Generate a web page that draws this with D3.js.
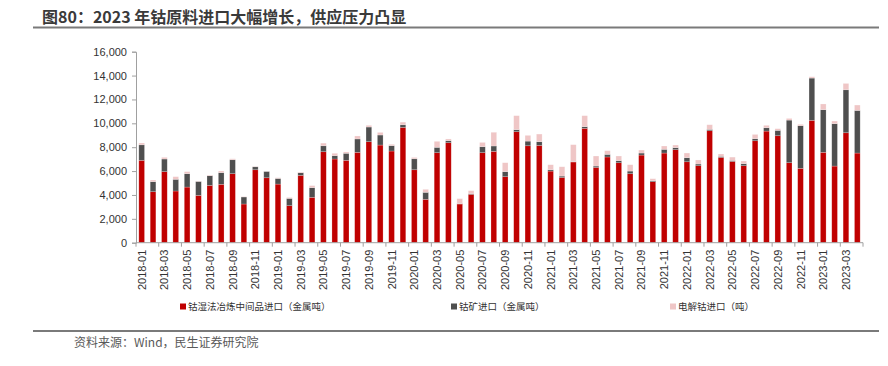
<!DOCTYPE html>
<html><head><meta charset="utf-8">
<script src="https://cdn.jsdelivr.net/npm/d3@7"></script>
<style>
body{margin:0;background:#fff;}
svg{display:block;}
</style></head>
<body><svg id="c" width="888" height="366"></svg>
<script>
const months = [
"2018-01","2018-02","2018-03","2018-04","2018-05","2018-06","2018-07","2018-08","2018-09","2018-10","2018-11","2018-12",
"2019-01","2019-02","2019-03","2019-04","2019-05","2019-06","2019-07","2019-08","2019-09","2019-10","2019-11","2019-12",
"2020-01","2020-02","2020-03","2020-04","2020-05","2020-06","2020-07","2020-08","2020-09","2020-10","2020-11","2020-12",
"2021-01","2021-02","2021-03","2021-04","2021-05","2021-06","2021-07","2021-08","2021-09","2021-10","2021-11","2021-12",
"2022-01","2022-02","2022-03","2022-04","2022-05","2022-06","2022-07","2022-08","2022-09","2022-10","2022-11","2022-12",
"2023-01","2023-02","2023-03","2023-04"];
// 钴湿法冶炼中间品进口（金属吨）
const intermediate = [
6900,4270,5950,4330,4660,3960,4800,4890,5780,3240,6110,5440,
4910,3100,5640,3800,7620,7010,6900,7570,8460,8180,7680,9660,
6110,3630,7540,8380,3240,4050,7540,7650,5530,9300,8120,8150,
6000,5470,6760,9580,6310,7180,6700,5780,7340,5110,7510,7790,
6780,6450,9380,7150,6810,6450,8540,9350,8960,6700,6230,10250,
7570,6420,9210,7510];
// 钴矿进口（金属吨）
const ore = [
1300,840,1060,980,1120,1170,810,980,1170,590,250,530,
470,610,220,810,500,280,590,1120,1230,840,450,220,
920,590,450,170,30,60,500,450,420,170,390,310,
110,110,30,140,110,220,170,220,170,80,310,170,
340,140,110,80,80,170,170,280,450,3570,3570,3540,
3570,3550,3600,3570];
// 电解钴进口（吨）
const electrolytic = [
150,140,140,220,170,30,60,140,80,30,30,20,
60,80,60,170,220,200,110,250,140,220,110,220,
110,250,500,140,420,250,360,1150,750,1170,480,640,
420,780,1420,920,840,310,390,530,250,170,280,220,
390,340,390,200,280,220,360,200,140,140,110,110,
480,220,530,450];
const yTicks = [0,2000,4000,6000,8000,10000,12000,14000,16000];
const seriesNames = ["钴湿法冶炼中间品进口（金属吨）","钴矿进口（金属吨）","电解钴进口（吨）"];
const colors = ["#C00000","#4F4F4F","#EFC6C6"];

const svg = d3.select("#c");
const cjk = "'Noto Sans CJK SC','Noto Sans',sans-serif";
const lat = "'Liberation Sans',Arial,sans-serif";

// title
svg.append("text").attr("x",42).attr("y",23)
  .attr("font-family",cjk).attr("font-weight","bold").attr("font-size",16)
  .attr("fill","#3a3a3a").text("图80：2023 年钴原料进口大幅增长，供应压力凸显");
svg.append("line").attr("x1",33).attr("x2",879).attr("y1",27.5).attr("y2",27.5)
  .attr("stroke","#7a7a7a").attr("stroke-width",2);

const x = d3.scaleBand().domain(months).range([136,863]).paddingInner(0.5).paddingOuter(0.25);
const y = d3.scaleLinear().domain([0,16000]).range([242.7,51.7]);

const rows = months.map((m,i)=>({m, a:intermediate[i], b:ore[i], c:electrolytic[i]}));
const stack = d3.stack().keys(["a","b","c"])(rows);

svg.append("g").selectAll("g").data(stack).join("g")
  .attr("fill",(d,i)=>colors[i])
  .selectAll("rect").data(d=>d).join("rect")
  .attr("x",d=>x(d.data.m)).attr("width",x.bandwidth())
  .attr("y",d=>y(d[1])).attr("height",d=>Math.max(0,y(d[0])-y(d[1])))
  .attr("stroke","rgba(255,255,255,0.35)").attr("stroke-width",0.6);

// y axis
const ya = svg.append("g").attr("transform","translate(136,0)")
  .call(d3.axisLeft(y).tickValues(yTicks).tickFormat(d3.format(",")).tickSize(4).tickPadding(5));
ya.select(".domain").attr("stroke","#a0a0a0");
ya.selectAll(".tick line").attr("stroke","#a0a0a0");
ya.selectAll("text").attr("font-family",lat).attr("font-size",11).attr("fill","#333");

// x axis
const xa = svg.append("g").attr("transform","translate(0,242.7)");
xa.append("line").attr("x1",136).attr("x2",863).attr("y1",0).attr("y2",0).attr("stroke","#a0a0a0");
const step = x.step();
months.forEach((m,i)=>{
  if(i%2===0){
    const bx = x(m)+x.bandwidth()/2 - step/2;
    xa.append("line").attr("x1",bx).attr("x2",bx).attr("y1",0).attr("y2",4).attr("stroke","#a0a0a0");
  }
});
xa.append("line").attr("x1",863).attr("x2",863).attr("y1",0).attr("y2",4).attr("stroke","#a0a0a0");
xa.selectAll("text.xl").data(months.filter((m,i)=>i%2===0)).join("text")
  .attr("class","xl")
  .attr("transform",d=>`translate(${x(d)+x.bandwidth()/2+4},7) rotate(-90)`)
  .attr("text-anchor","end").attr("font-family",lat).attr("font-size",11).attr("fill","#333")
  .text(d=>d);

// legend
const lx = [180,451,670];
seriesNames.forEach((n,i)=>{
  const g = svg.append("g").attr("transform",`translate(${lx[i]},307)`);
  g.append("rect").attr("x",0).attr("y",-3.5).attr("width",6).attr("height",6).attr("fill",colors[i]);
  g.append("text").attr("x",8).attr("y",0).attr("dy","0.35em")
    .attr("font-family",cjk).attr("font-size",9.5).attr("fill","#333").text(n);
});

// source
svg.append("line").attr("x1",33).attr("x2",879).attr("y1",331).attr("y2",331)
  .attr("stroke","#7a7a7a").attr("stroke-width",2);
svg.append("text").attr("x",74).attr("y",347)
  .attr("font-family",cjk).attr("font-size",12).attr("fill","#595959")
  .text("资料来源：Wind，民生证券研究院");
</script>
</body></html>
